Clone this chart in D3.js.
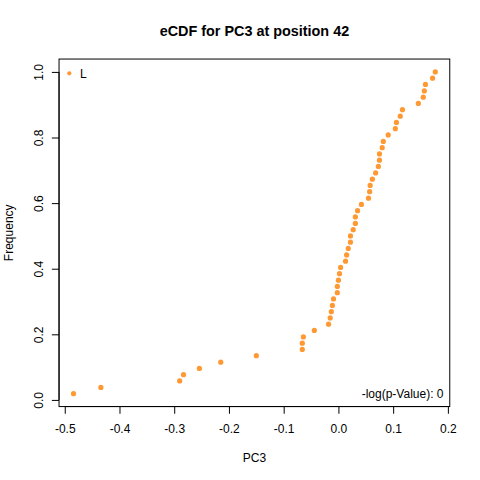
<!DOCTYPE html>
<html>
<head>
<meta charset="utf-8">
<script src="https://cdn.jsdelivr.net/npm/d3@7"></script>
<style>
  body { margin: 0; background: #fff; }
  svg { font-family: "Liberation Sans", Arial, sans-serif; }
</style>
</head>
<body>
<div id="chart"></div>
<script>
// PC3 values (sorted) and their eCDF frequency
const pc3Values = [
  -0.484, -0.434, -0.290, -0.283, -0.254, -0.215, -0.150, -0.066, -0.066, -0.064,
  -0.044, -0.018, -0.015, -0.013, -0.011, -0.009, -0.002, -0.002, 0.000, 0.002,
  0.004, 0.013, 0.015, 0.018, 0.022, 0.022, 0.027, 0.031, 0.031, 0.035,
  0.042, 0.055, 0.057, 0.058, 0.062, 0.068, 0.073, 0.075, 0.075, 0.080,
  0.082, 0.091, 0.104, 0.106, 0.113, 0.117, 0.146, 0.155, 0.157, 0.159,
  0.172, 0.177
];
const frequencies = [
  0.019, 0.038, 0.058, 0.077, 0.096, 0.115, 0.135, 0.154, 0.173, 0.192,
  0.212, 0.231, 0.250, 0.269, 0.288, 0.308, 0.327, 0.346, 0.365, 0.385,
  0.404, 0.423, 0.442, 0.462, 0.481, 0.500, 0.519, 0.538, 0.558, 0.577,
  0.596, 0.615, 0.635, 0.654, 0.673, 0.692, 0.712, 0.731, 0.750, 0.769,
  0.788, 0.808, 0.827, 0.846, 0.865, 0.885, 0.904, 0.923, 0.942, 0.962,
  0.981, 1.000
];
const xTicks = [-0.5, -0.4, -0.3, -0.2, -0.1, 0.0, 0.1, 0.2];
const yTicks = [0.0, 0.2, 0.4, 0.6, 0.8, 1.0];
const title = "eCDF for PC3 at position 42";
const xLabel = "PC3";
const yLabel = "Frequency";
const legendLabel = "L";
const scoreLabel = "-log(p-Value): 0";

const W = 480, H = 480;
const plot = { left: 59.04, right: 449.76, top: 59.04, bottom: 406.56 };
const dotColor = "#FF9933";

// R style 4% padding on data range
function padded(ext) {
  const r = ext[1] - ext[0];
  return [ext[0] - 0.04 * r, ext[1] + 0.04 * r];
}

const x = d3.scaleLinear()
  .domain(padded(d3.extent(pc3Values)))
  .range([plot.left, plot.right]);

const y = d3.scaleLinear()
  .domain(padded(d3.extent(frequencies)))
  .range([plot.bottom, plot.top]);

const svg = d3.select("#chart").append("svg")
  .attr("width", W)
  .attr("height", H);

svg.append("rect").attr("width", W).attr("height", H).attr("fill", "#fff");

// x axis
const gx = svg.append("g")
  .attr("transform", `translate(0,${plot.bottom})`)
  .call(d3.axisBottom(x).tickValues(xTicks).tickSize(7.2).tickSizeOuter(0)
    .tickFormat(d => d.toFixed(1)));
gx.select(".domain").remove();
gx.append("line")
  .attr("x1", x(xTicks[0])).attr("x2", x(xTicks[xTicks.length - 1]))
  .attr("stroke", "#000");
gx.selectAll(".tick line").attr("stroke", "#000");
gx.selectAll(".tick text")
  .attr("y", 26.5).attr("dy", 0)
  .attr("fill", "#000")
  .style("font-size", "12px")
  .style("font-family", "Liberation Sans, Arial, sans-serif");

// y axis
const gy = svg.append("g")
  .attr("transform", `translate(${plot.left},0)`)
  .call(d3.axisLeft(y).tickValues(yTicks).tickSize(7.2).tickSizeOuter(0)
    .tickFormat(d => d.toFixed(1)));
gy.select(".domain").remove();
gy.append("line")
  .attr("y1", y(yTicks[0])).attr("y2", y(yTicks[yTicks.length - 1]))
  .attr("stroke", "#000");
gy.selectAll(".tick line").attr("stroke", "#000");
gy.selectAll(".tick text")
  .attr("x", 0).attr("dy", 0)
  .attr("text-anchor", "middle")
  .attr("transform", "translate(-16.5,0) rotate(-90)")
  .attr("fill", "#000")
  .style("font-size", "12px")
  .style("font-family", "Liberation Sans, Arial, sans-serif");

// box
svg.append("rect")
  .attr("x", plot.left).attr("y", plot.top)
  .attr("width", plot.right - plot.left)
  .attr("height", plot.bottom - plot.top)
  .attr("fill", "none").attr("stroke", "#000");

// points
svg.append("g")
  .selectAll("circle")
  .data(pc3Values)
  .enter().append("circle")
  .attr("cx", d => x(d))
  .attr("cy", (d, i) => y(frequencies[i]))
  .attr("r", 2.6)
  .attr("fill", dotColor);

// title and axis labels
svg.append("text")
  .attr("x", (plot.left + plot.right) / 2).attr("y", 36)
  .attr("text-anchor", "middle")
  .style("font-size", "14.4px").style("font-weight", "bold")
  .text(title);

svg.append("text")
  .attr("x", (plot.left + plot.right) / 2).attr("y", 462)
  .attr("text-anchor", "middle")
  .style("font-size", "12px")
  .text(xLabel);

svg.append("text")
  .attr("transform", `translate(12.5,${(plot.top + plot.bottom) / 2}) rotate(-90)`)
  .attr("text-anchor", "middle")
  .style("font-size", "12px")
  .text(yLabel);

// legend top-left
svg.append("circle")
  .attr("cx", 69.3).attr("cy", 73.3).attr("r", 2.1)
  .attr("fill", dotColor);
svg.append("text")
  .attr("x", 80).attr("y", 78)
  .style("font-size", "12px")
  .text(legendLabel);

// score bottom-right
svg.append("text")
  .attr("x", 443.5).attr("y", 398)
  .attr("text-anchor", "end")
  .style("font-size", "12px")
  .text(scoreLabel);
</script>
</body>
</html>
